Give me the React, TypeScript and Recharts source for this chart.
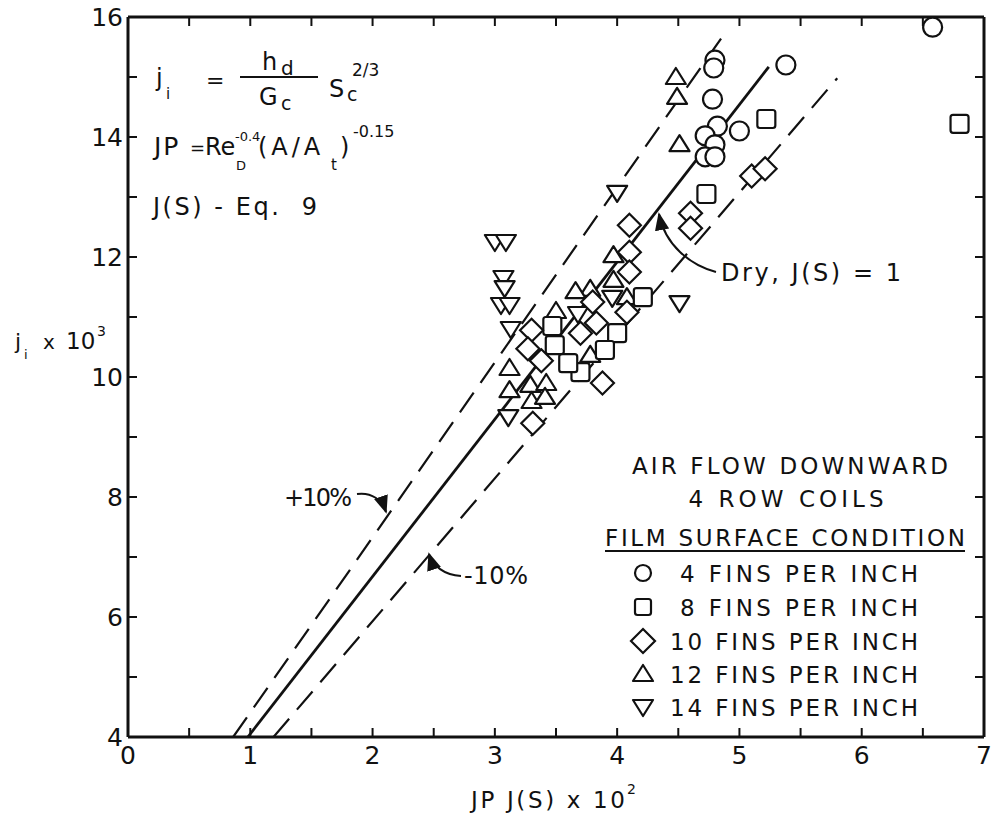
import React from 'react'
import { ScatterChart, Scatter, XAxis, YAxis } from 'recharts'

const W = 993
const H = 815
const FONT = '"DejaVu Sans", "Liberation Sans", sans-serif'
const INK = '#111'

type Pt = { x: number; y: number }

const xTicks = [0, 0.5, 1, 1.5, 2, 2.5, 3, 3.5, 4, 4.5, 5, 5.5, 6, 6.5, 7]
const yTicks = [4, 5, 6, 7, 8, 9, 10, 11, 12, 13, 14, 15, 16]
const xLabels = [0, 1, 2, 3, 4, 5, 6, 7]
const yLabels = [4, 6, 8, 10, 12, 14, 16]

// 4 fins per inch (circles)
const fins4: Pt[] = [
  { x: 6.58, y: 15.83 }, { x: 5.38, y: 15.2 }, { x: 4.8, y: 15.28 }, { x: 4.79, y: 15.15 },
  { x: 4.78, y: 14.63 }, { x: 4.82, y: 14.18 }, { x: 4.72, y: 14.02 }, { x: 5.0, y: 14.1 },
  { x: 4.8, y: 13.87 }, { x: 4.72, y: 13.67 }, { x: 4.8, y: 13.67 },
]
// 8 fins per inch (squares)
const fins8: Pt[] = [
  { x: 6.8, y: 14.22 }, { x: 5.22, y: 14.3 }, { x: 4.73, y: 13.05 }, { x: 4.21, y: 11.33 },
  { x: 4.0, y: 10.73 }, { x: 3.9, y: 10.45 }, { x: 3.7, y: 10.08 }, { x: 3.6, y: 10.23 },
  { x: 3.49, y: 10.53 }, { x: 3.47, y: 10.85 },
]
// 10 fins per inch (diamonds)
const fins10: Pt[] = [
  { x: 5.1, y: 13.35 }, { x: 5.21, y: 13.47 }, { x: 4.6, y: 12.73 }, { x: 4.6, y: 12.48 },
  { x: 4.1, y: 12.53 }, { x: 4.1, y: 12.08 }, { x: 4.1, y: 11.75 }, { x: 4.08, y: 11.08 },
  { x: 3.8, y: 11.25 }, { x: 3.83, y: 10.9 }, { x: 3.7, y: 10.73 }, { x: 3.3, y: 10.78 },
  { x: 3.27, y: 10.47 }, { x: 3.38, y: 10.27 }, { x: 3.31, y: 9.23 }, { x: 3.88, y: 9.9 },
]
// 12 fins per inch (triangles up)
const fins12: Pt[] = [
  { x: 4.48, y: 15.0 }, { x: 4.49, y: 14.67 }, { x: 4.51, y: 13.88 }, { x: 3.97, y: 12.03 },
  { x: 3.97, y: 11.62 }, { x: 4.08, y: 11.33 }, { x: 3.78, y: 11.47 }, { x: 3.66, y: 11.43 },
  { x: 3.5, y: 11.1 }, { x: 3.78, y: 10.37 }, { x: 3.12, y: 10.15 }, { x: 3.12, y: 9.78 },
  { x: 3.29, y: 9.87 }, { x: 3.3, y: 9.6 }, { x: 3.42, y: 9.9 }, { x: 3.41, y: 9.67 },
]
// 14 fins per inch (triangles down)
const fins14: Pt[] = [
  { x: 3.0, y: 12.25 }, { x: 3.09, y: 12.25 }, { x: 3.07, y: 11.65 }, { x: 3.08, y: 11.48 },
  { x: 3.05, y: 11.2 }, { x: 3.12, y: 11.2 }, { x: 3.13, y: 10.8 }, { x: 3.11, y: 9.33 },
  { x: 4.51, y: 11.23 }, { x: 4.0, y: 13.07 }, { x: 3.96, y: 11.32 }, { x: 3.68, y: 11.05 },
]

// correlation line and the +/-10% band
const dryLine: Pt[] = [{ x: 0.98, y: 4 }, { x: 5.24, y: 15.17 }]
const plus10Line: Pt[] = [{ x: 0.86, y: 4 }, { x: 4.88, y: 15.73 }]
const minus10Line: Pt[] = [{ x: 1.19, y: 4 }, { x: 5.8, y: 14.98 }]

const SW = 2.2

const Circle = ({ cx, cy, r = 9.5 }: any) => (
  <circle cx={cx} cy={cy} r={r} fill="#fff" stroke={INK} strokeWidth={SW} />
)
const Square = ({ cx, cy, s = 18 }: any) => (
  <rect x={cx - s / 2} y={cy - s / 2} width={s} height={s} rx={2.5} fill="#fff" stroke={INK} strokeWidth={SW} />
)
const Diamond = ({ cx, cy, d = 11.5 }: any) => (
  <polygon points={`${cx},${cy - d} ${cx + d},${cy} ${cx},${cy + d} ${cx - d},${cy}`} fill="#fff" stroke={INK} strokeWidth={SW} />
)
const TriUp = ({ cx, cy, w = 10 }: any) => (
  <polygon points={`${cx},${cy - w * 0.9} ${cx + w},${cy + w * 0.7} ${cx - w},${cy + w * 0.7}`} fill="#fff" stroke={INK} strokeWidth={SW} strokeLinejoin="round" />
)
const TriDown = ({ cx, cy, w = 10 }: any) => (
  <polygon points={`${cx},${cy + w * 0.9} ${cx + w},${cy - w * 0.7} ${cx - w},${cy - w * 0.7}`} fill="#fff" stroke={INK} strokeWidth={SW} strokeLinejoin="round" />
)
const NoDot = () => <g />

const BottomTick = ({ x, y, payload }: any) => (
  <g>
    <line x1={x} x2={x} y1={y} y2={y - 9} stroke={INK} strokeWidth={2} />
    {xLabels.includes(payload.value) && (
      <text x={x} y={y + 27} textAnchor="middle" fontSize={25} fontFamily={FONT} fill={INK}>{payload.value}</text>
    )}
  </g>
)
const TopTick = ({ x, y }: any) => <line x1={x} x2={x} y1={y} y2={y + 9} stroke={INK} strokeWidth={2} />
const LeftTick = ({ x, y, payload }: any) => (
  <g>
    <line x1={x} x2={x + 9} y1={y} y2={y} stroke={INK} strokeWidth={2} />
    {yLabels.includes(payload.value) && (
      <text x={x - 5} y={y + 9} textAnchor="end" fontSize={25} fontFamily={FONT} fill={INK}>{payload.value}</text>
    )}
  </g>
)
const RightTick = ({ x, y }: any) => <line x1={x} x2={x - 9} y1={y} y2={y} stroke={INK} strokeWidth={2} />

const frame = { stroke: INK, strokeWidth: 3 }

function Overlay() {
  const t = { fontFamily: FONT, fill: INK }
  return (
    <svg width={W} height={H} style={{ position: 'absolute', left: 0, top: 0, pointerEvents: 'none' }}>
      <defs>
        <marker id="ah" viewBox="0 0 10 10" refX="9" refY="5" markerWidth="9" markerHeight="9" orient="auto">
          <path d="M0,1 L10,5 L0,9 z" fill={INK} />
        </marker>
      </defs>
      {/* definitions block */}
      <text x={156} y={86} fontSize={24} {...t}>j</text>
      <text x={166} y={99} fontSize={15} {...t}>i</text>
      <text x={206} y={88} fontSize={22} {...t}>=</text>
      <text x={262} y={70} fontSize={24} {...t}>h</text>
      <text x={281} y={75} fontSize={20} {...t}>d</text>
      <line x1={240} x2={318} y1={77} y2={77} stroke={INK} strokeWidth={2} />
      <text x={259} y={105} fontSize={24} {...t}>G</text>
      <text x={281} y={110} fontSize={19} {...t}>c</text>
      <text x={329} y={97} fontSize={24} {...t}>S</text>
      <text x={347} y={101} fontSize={19} {...t}>c</text>
      <text x={352} y={76} fontSize={17} {...t}>2/3</text>

      <text x={154} y={155} fontSize={25} {...t} letterSpacing={2}>JP</text>
      <text x={190} y={154} fontSize={18} {...t}>=</text>
      <text x={205} y={155} fontSize={24} {...t}>Re</text>
      <text x={236} y={170} fontSize={13} {...t}>D</text>
      <text x={235} y={141} fontSize={13} {...t}>-0.4</text>
      <text x={258} y={155} fontSize={24} {...t} letterSpacing={4}>(A/A</text>
      <text x={331} y={170} fontSize={15} {...t}>t</text>
      <text x={340} y={155} fontSize={24} {...t}>)</text>
      <text x={353} y={137} fontSize={16} {...t}>-0.15</text>

      <text x={153} y={215} fontSize={24} {...t} textLength={164} style={{ whiteSpace: 'pre' }}>J(S) - Eq.  9</text>

      {/* axis titles */}
      <text x={15} y={349} fontSize={22} {...t}>j</text>
      <text x={24} y={359} fontSize={13} {...t}>i</text>
      <text x={43} y={349} fontSize={20} {...t}>x</text>
      <text x={66} y={349} fontSize={23} {...t}>10</text>
      <text x={97} y={336} fontSize={14} {...t}>3</text>

      <text x={471} y={808} fontSize={23} {...t} textLength={154} style={{ whiteSpace: 'pre' }}>JP J(S) x 10</text>
      <text x={627} y={794} fontSize={14} {...t}>2</text>

      {/* annotations */}
      <text x={721} y={281} fontSize={24} {...t} textLength={180} style={{ whiteSpace: 'pre' }}>Dry, J(S) = 1</text>
      <path d="M 716 272 C 690 265, 665 245, 659 214" fill="none" stroke={INK} strokeWidth={2} markerEnd="url(#ah)" />
      <text x={284} y={506} fontSize={24} {...t} textLength={68}>+10%</text>
      <path d="M 357 494 C 372 492, 382 500, 386 512" fill="none" stroke={INK} strokeWidth={2} markerEnd="url(#ah)" />
      <text x={464} y={584} fontSize={24} {...t} textLength={64}>-10%</text>
      <path d="M 461 576 C 444 575, 433 566, 429 554" fill="none" stroke={INK} strokeWidth={2} markerEnd="url(#ah)" />

      {/* legend */}
      <text x={790} y={474} fontSize={23} textAnchor="middle" {...t} textLength={316}>AIR FLOW DOWNWARD</text>
      <text x={786} y={507} fontSize={23} textAnchor="middle" {...t} textLength={195}>4 ROW COILS</text>
      <text x={785} y={546} fontSize={23} textAnchor="middle" {...t} textLength={360}>FILM SURFACE CONDITION</text>
      <line x1={605} x2={965} y1={551} y2={551} stroke={INK} strokeWidth={2} />
      <Circle cx={643} cy={573} r={8} />
      <text x={918} y={582} fontSize={23} textAnchor="end" {...t} textLength={238}>4 FINS PER INCH</text>
      <Square cx={643} cy={607} s={16} />
      <text x={918} y={616} fontSize={23} textAnchor="end" {...t} textLength={238}>8 FINS PER INCH</text>
      <Diamond cx={643} cy={641} d={12} />
      <text x={918} y={650} fontSize={23} textAnchor="end" {...t} textLength={248}>10 FINS PER INCH</text>
      <TriUp cx={643} cy={674} w={10} />
      <text x={918} y={683} fontSize={23} textAnchor="end" {...t} textLength={248}>12 FINS PER INCH</text>
      <TriDown cx={643} cy={707} w={10} />
      <text x={918} y={716} fontSize={23} textAnchor="end" {...t} textLength={248}>14 FINS PER INCH</text>
    </svg>
  )
}

export default function App() {
  return (
    <div style={{ position: 'absolute', left: 0, top: 0, width: W, height: H, background: '#fff' }}>
      <ScatterChart width={W} height={H} margin={{ top: 16, right: 8, left: 0, bottom: 0 }}>
        <XAxis xAxisId="b" type="number" dataKey="x" domain={[0, 7]} ticks={xTicks} interval={0}
          orientation="bottom" height={78} axisLine={frame} tickLine={false} tickSize={0} tickMargin={0}
          tick={(p: any) => <BottomTick {...p} />} allowDataOverflow />
        <XAxis xAxisId="t" type="number" dataKey="x" domain={[0, 7]} ticks={xTicks} interval={0}
          orientation="top" height={1} axisLine={frame} tickLine={false} tickSize={0} tickMargin={0}
          tick={(p: any) => <TopTick {...p} />} allowDataOverflow />
        <YAxis yAxisId="l" type="number" dataKey="y" domain={[4, 16]} ticks={yTicks} interval={0}
          orientation="left" width={128} axisLine={frame} tickLine={false} tickSize={0} tickMargin={0}
          tick={(p: any) => <LeftTick {...p} />} allowDataOverflow />
        <YAxis yAxisId="r" type="number" dataKey="y" domain={[4, 16]} ticks={yTicks} interval={0}
          orientation="right" width={1} axisLine={frame} tickLine={false} tickSize={0} tickMargin={0}
          tick={(p: any) => <RightTick {...p} />} allowDataOverflow />

        <Scatter data={plus10Line} xAxisId="t" yAxisId="r" shape={NoDot} isAnimationActive={false}
          line={{ stroke: INK, strokeWidth: 2.2, strokeDasharray: '24 12' }} />
        <Scatter data={minus10Line} xAxisId="b" yAxisId="l" shape={NoDot} isAnimationActive={false}
          line={{ stroke: INK, strokeWidth: 2.2, strokeDasharray: '24 12' }} />
        <Scatter data={dryLine} xAxisId="b" yAxisId="l" shape={NoDot} isAnimationActive={false}
          line={{ stroke: INK, strokeWidth: 2.8 }} />

        <Scatter data={fins14} xAxisId="b" yAxisId="l" shape={(p: any) => <TriDown {...p} />} isAnimationActive={false} />
        <Scatter data={fins12} xAxisId="b" yAxisId="l" shape={(p: any) => <TriUp {...p} />} isAnimationActive={false} />
        <Scatter data={fins8} xAxisId="b" yAxisId="l" shape={(p: any) => <Square {...p} />} isAnimationActive={false} />
        <Scatter data={fins10} xAxisId="b" yAxisId="l" shape={(p: any) => <Diamond {...p} />} isAnimationActive={false} />
        <Scatter data={fins4} xAxisId="b" yAxisId="l" shape={(p: any) => <Circle {...p} />} isAnimationActive={false} />
      </ScatterChart>
      <Overlay />
    </div>
  )
}
